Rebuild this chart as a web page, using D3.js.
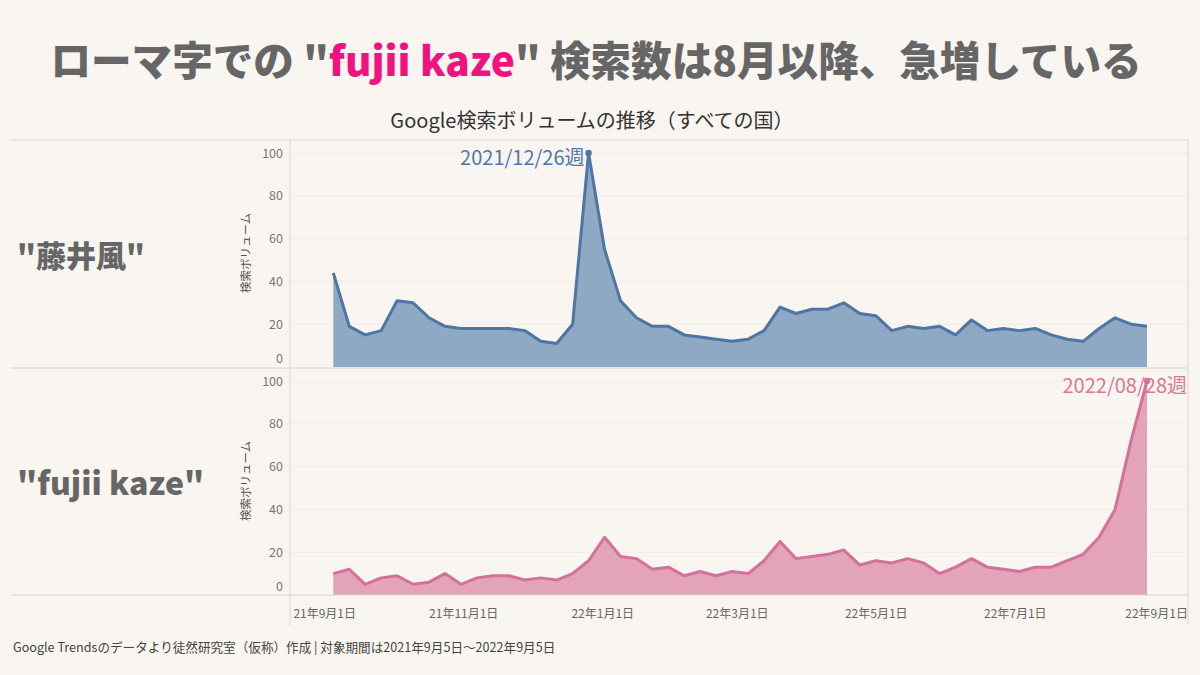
<!DOCTYPE html>
<html>
<head>
<meta charset="utf-8">
<script src="https://cdn.jsdelivr.net/npm/d3@7"></script>
<style>
  body { margin: 0; background: #f9f5f1; }
  svg { display: block; font-family: "Noto Sans CJK JP", "Noto Sans", sans-serif; }
</style>
</head>
<body>
<svg id="chart" width="1200" height="675"></svg>
<script>
// weekly Google Trends data (week starting Sunday)
var weeks = [
  "2021-09-05","2021-09-12","2021-09-19","2021-09-26","2021-10-03","2021-10-10","2021-10-17","2021-10-24","2021-10-31",
  "2021-11-07","2021-11-14","2021-11-21","2021-11-28","2021-12-05","2021-12-12","2021-12-19","2021-12-26",
  "2022-01-02","2022-01-09","2022-01-16","2022-01-23","2022-01-30","2022-02-06","2022-02-13","2022-02-20","2022-02-27",
  "2022-03-06","2022-03-13","2022-03-20","2022-03-27","2022-04-03","2022-04-10","2022-04-17","2022-04-24",
  "2022-05-01","2022-05-08","2022-05-15","2022-05-22","2022-05-29","2022-06-05","2022-06-12","2022-06-19","2022-06-26",
  "2022-07-03","2022-07-10","2022-07-17","2022-07-24","2022-07-31","2022-08-07","2022-08-14","2022-08-21","2022-08-28"
];

var kanjiValues = [44,19,15,17,31,30,23,19,18,18,18,18,17,12,11,20,100,55,31,23,19,19,15,14,13,12,
                   13,17,28,25,27,27,30,25,24,17,19,18,19,15,22,17,18,17,18,15,13,12,18,23,20,19];

var romajiValues = [10,12,5,8,9,5,6,10,5,8,9,9,7,8,7,10,16,27,18,17,12,13,9,11,9,11,
                    10,16,25,17,18,19,21,14,16,15,17,15,10,13,17,13,12,11,13,13,16,19,27,40,72,100];

var seriesNames = ['"藤井風"', '"fujii kaze"'];
var peakLabels = ["2021/12/26週", "2022/08/28週"];

var xTickDates = ["2021-09-01","2021-11-01","2022-01-01","2022-03-01","2022-05-01","2022-07-01","2022-09-01"];
var xTickLabels = ["21年9月1日","21年11月1日","22年1月1日","22年3月1日","22年5月1日","22年7月1日","22年9月1日"];
var yTicks = [0, 20, 40, 60, 80, 100];

var parseDate = d3.timeParse("%Y-%m-%d");

var svg = d3.select("#chart");

svg.append("rect").attr("width", 1200).attr("height", 675).attr("fill", "#f9f5f1");

// title
var title = svg.append("text")
  .attr("x", 596).attr("y", 76)
  .attr("text-anchor", "middle")
  .attr("font-size", "40.6px")
  .attr("font-weight", 900)
  .attr("fill", "#666666");
title.append("tspan").text('ローマ字での "');
title.append("tspan").attr("fill", "#f0127e").text("fujii kaze");
title.append("tspan").text('" 検索数は8月以降、急増している');

svg.append("text")
  .attr("x", 592).attr("y", 128)
  .attr("text-anchor", "middle")
  .attr("font-size", "20px")
  .attr("fill", "#333333")
  .text("Google検索ボリュームの推移（すべての国）");

var left = 290, right = 1188;

var x = d3.scaleTime()
  .domain([parseDate("2021-08-17"), parseDate("2022-09-15")])
  .range([left, right]);

var panels = [
  { top: 140, values: kanjiValues, line: "#4e76a3", fill: "#8fa8c4", peak: 16, labelColor: "#4e79a7" },
  { top: 368, values: romajiValues, line: "#d4719a", fill: "#e3a4b9", peak: 51, labelColor: "#d87799" }
];
var panelHeight = 227;

panels.forEach(function(p, k) {
  var y = d3.scaleLinear().domain([0, 100]).range([p.top + panelHeight, p.top + 13]);

  var data = weeks.map(function(w, i) {
    return { date: parseDate(w), value: p.values[i] };
  });

  var g = svg.append("g");

  // grid lines
  g.selectAll(".grid")
    .data(yTicks.filter(function(t) { return t > 0; }))
    .enter().append("line")
    .attr("x1", left).attr("x2", right)
    .attr("y1", function(d) { return y(d); })
    .attr("y2", function(d) { return y(d); })
    .attr("stroke", "#f1ece7")
    .attr("stroke-width", 1);

  var area = d3.area()
    .x(function(d) { return x(d.date); })
    .y0(y(0))
    .y1(function(d) { return y(d.value); });

  var line = d3.line()
    .x(function(d) { return x(d.date); })
    .y(function(d) { return y(d.value); });

  g.append("path").datum(data)
    .attr("d", area)
    .attr("fill", p.fill);

  g.append("path").datum(data)
    .attr("d", line)
    .attr("fill", "none")
    .attr("stroke", p.line)
    .attr("stroke-width", 3)
    .attr("stroke-linejoin", "round");

  var pk = data[p.peak];
  g.append("circle")
    .attr("cx", x(pk.date)).attr("cy", y(pk.value))
    .attr("r", 3.2)
    .attr("fill", p.line);

  g.append("text")
    .attr("x", k == 0 ? x(pk.date) - 4 : 1187)
    .attr("y", y(pk.value) + 12)
    .attr("text-anchor", "end")
    .attr("font-size", "20px")
    .attr("fill", p.labelColor)
    .text(peakLabels[k]);

  // y axis
  var yAxis = g.append("g")
    .attr("transform", "translate(" + (left - 7) + ",0)")
    .call(d3.axisLeft(y).tickValues(yTicks).tickSize(0).tickPadding(0));
  yAxis.select(".domain").remove();
  yAxis.selectAll("text")
    .attr("font-family", "'Noto Sans CJK JP', sans-serif")
    .attr("font-size", "12.5px")
    .attr("fill", "#777777")
    .attr("dy", function(d) { return d == 0 ? "-0.4em" : "0.32em"; });

  g.append("text")
    .attr("transform", "translate(250," + (p.top + 113) + ") rotate(-90)")
    .attr("text-anchor", "middle")
    .attr("font-size", "11.5px")
    .attr("fill", "#555555")
    .text("検索ボリューム");

  // row label
  g.append("text")
    .attr("x", 17)
    .attr("y", p.top + 127)
    .attr("font-size", k == 0 ? "30px" : "32px")
    .attr("font-weight", 900)
    .attr("fill", "#666666")
    .text(seriesNames[k]);
});

// frame lines
[140, 368, 595].forEach(function(yy) {
  svg.append("line")
    .attr("x1", 11).attr("x2", right)
    .attr("y1", yy).attr("y2", yy)
    .attr("stroke", "#d9d4cf");
});
[left, right].forEach(function(xx) {
  svg.append("line")
    .attr("x1", xx).attr("x2", xx)
    .attr("y1", 140).attr("y2", 625)
    .attr("stroke", "#d9d4cf");
});

// x axis
var xAxis = svg.append("g")
  .attr("transform", "translate(0,595)")
  .call(d3.axisBottom(x)
    .tickValues(xTickDates.map(parseDate))
    .tickSize(0).tickPadding(14)
    .tickFormat(function(d, i) { return xTickLabels[i]; }));
xAxis.select(".domain").remove();
xAxis.selectAll("text")
  .attr("font-family", "'Noto Sans CJK JP', sans-serif")
  .attr("font-size", "12px")
  .attr("fill", "#666666");

svg.append("text")
  .attr("x", 13).attr("y", 652)
  .attr("font-size", "12.6px")
  .attr("fill", "#444444")
  .text("Google Trendsのデータより徒然研究室（仮称）作成 | 対象期間は2021年9月5日〜2022年9月5日");
</script>
</body>
</html>
